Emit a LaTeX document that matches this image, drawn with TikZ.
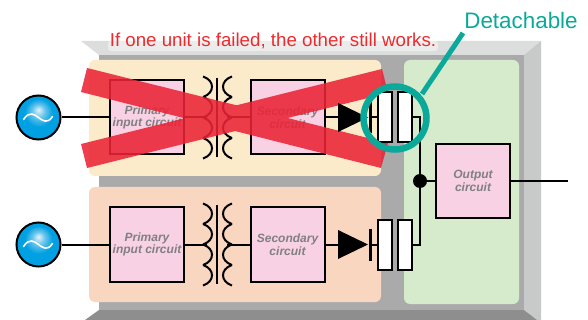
\documentclass[tikz,border=0pt]{standalone}
\usepackage{fontspec}
\setmainfont{Liberation Sans}
\usetikzlibrary{calc}
\definecolor{shelltop}{HTML}{DCDEDE}
\definecolor{shellright}{HTML}{C8CACA}
\definecolor{shellback}{HTML}{AAAAAA}
\definecolor{shellfloor}{HTML}{8E8E8E}
\definecolor{unitcream}{HTML}{FCEBCB}
\definecolor{unitpeach}{HTML}{F9D6C0}
\definecolor{outgreen}{HTML}{D5EBCB}
\definecolor{boxpink}{HTML}{F8D2E4}
\definecolor{crossred}{HTML}{EA2436}
\definecolor{noticered}{HTML}{EE2A2E}
\definecolor{teal}{HTML}{0AA99A}
\definecolor{srchigh}{HTML}{E4F4FB}
\definecolor{srcmid}{HTML}{6CC6EC}
\definecolor{srcblue}{HTML}{00A0E2}
\pgfdeclareradialshading{srcglow}{\pgfpoint{0pt}{9pt}}{color(0pt)=(srchigh); color(7pt)=(srcmid); color(16pt)=(srcblue); color(40pt)=(srcblue)}
\tikzset{
  wire/.style={line width=2pt},
  unit/.style={rounded corners=6pt},
  block/.style={draw,line width=2pt,fill=boxpink,minimum width=74pt,minimum height=74pt,inner sep=0pt,
    align=center,text=black!50,font=\fontsize{12}{12.5}\selectfont\bfseries\itshape},
  source/.style={circle,draw,line width=2pt,minimum size=44pt,inner sep=0pt,shading=srcglow},
  plate/.style={draw,line width=2pt,fill=white,minimum width=14pt,minimum height=50pt,inner sep=0pt},
}
\begin{document}
\begin{tikzpicture}[x=1pt,y=-1pt]
\useasboundingbox (0,0) rectangle (588,320);
% cabinet
\fill[shellback] (99,55) rectangle (524,310);
\fill[shelltop] (81,41) -- (541,41) -- (524,55) -- (99,55) -- cycle;
\fill[shellright] (541,41) -- (541,320) -- (537,320) -- (524,310) -- (524,55) -- cycle;
\fill[shellfloor] (99,310) -- (524,310) -- (537,320) -- (85,320) -- cycle;
\fill[unit,unitcream] (89,60) rectangle (381,176);
\fill[unit,unitpeach] (89,187) rectangle (381,302);
\fill[unit,outgreen] (404,60) rectangle (519,304);
% the two units
\foreach \row/\y in {a/117.5,b/244.5} {
  \node[source] (src\row) at (38.5,\y) {};
  \draw[white,line width=1.6pt,line cap=round] ($(src\row.center)+(-15,2)$) .. controls ($(src\row.center)+(-9,-7)$) and ($(src\row.center)+(-4,-3)$) .. (src\row.center)
    .. controls ($(src\row.center)+(4,3)$) and ($(src\row.center)+(9,7)$) .. ($(src\row.center)+(14,-1)$);
  \node[block] (prim\row) at (147,\y) {Primary\\input circuit};
  \node[block] (sec\row) at (287.5,\y) {Secondary\\circuit};
  \coordinate (tapl\row) at (207,\y);
  \coordinate (tapr\row) at (227,\y);
  \draw[wire] (src\row) -- (prim\row);
  \draw[wire] (prim\row) -- (tapl\row);
  \draw[wire] (tapr\row) -- (sec\row);
  \draw[wire] (217,\y-39.5) -- (217,\y+39.5);
  \foreach \c in {-41,-20.5,0,20.5} {
    \draw[wire] (203,\y+\c) .. controls (215,\y+\c+4) and (215,\y+\c+16.5) .. (203,\y+\c+20.5);
    \draw[wire] (232,\y+\c) .. controls (220,\y+\c+4) and (220,\y+\c+16.5) .. (232,\y+\c+20.5);
  }
}
% failed unit
\fill[crossred,opacity=0.88] (87,68) -- (388,143) -- (381,168) -- (81,92) -- cycle
  (382,69) -- (388,93) -- (87,168) -- (81,144) -- cycle;
% diodes and plates
\foreach \row/\y in {a/117.5,b/244.5} {
  \coordinate (dioin\row) at (338,\y);
  \coordinate (bar\row) at (370.5,\y);
  \node[plate] (capl\row) at (385,\y) {};
  \node[plate] (capr\row) at (404.5,\y) {};
  \draw[wire] (sec\row) -- (dioin\row);
  \fill (338,\y-14.5) -- (368,\y) -- (338,\y+14.5) -- cycle;
  \draw[line width=3pt] (370.5,\y-16) -- (370.5,\y+16);
  \draw[wire] (bar\row) -- (capl\row);
}
\node[block] (out) at (473,181) {Output\\circuit};
\node[circle,fill=black,minimum size=14pt,inner sep=0pt] (join) at (420,181) {};
\coordinate (load) at (568,181);
\draw[wire] (capra.east) -| (join);
\draw[wire] (caprb.east) -| (join);
\draw[wire] (join) -- (out);
\draw[wire] (out) -- (load);
% callout
\node[circle,draw=teal,line width=6.5pt,minimum size=63pt,inner sep=0pt] (ring) at (395,118) {};
\node[text=teal,font=\fontsize{22.4}{24}\selectfont,inner sep=0pt] (detach) at (521,20) {Detachable};
\coordinate (leader) at (463,33);
\draw[teal,line width=5pt] (ring) ++(27,-24) -- (leader);
\fill[white,opacity=0.45,rounded corners=3pt] (108,41) rectangle (438,51);
\node[text=noticered,font=\fontsize{18.7}{20}\selectfont,inner sep=0pt] (notice) at (273,41) {If one unit is failed, the other still works.};
\end{tikzpicture}
\end{document}
